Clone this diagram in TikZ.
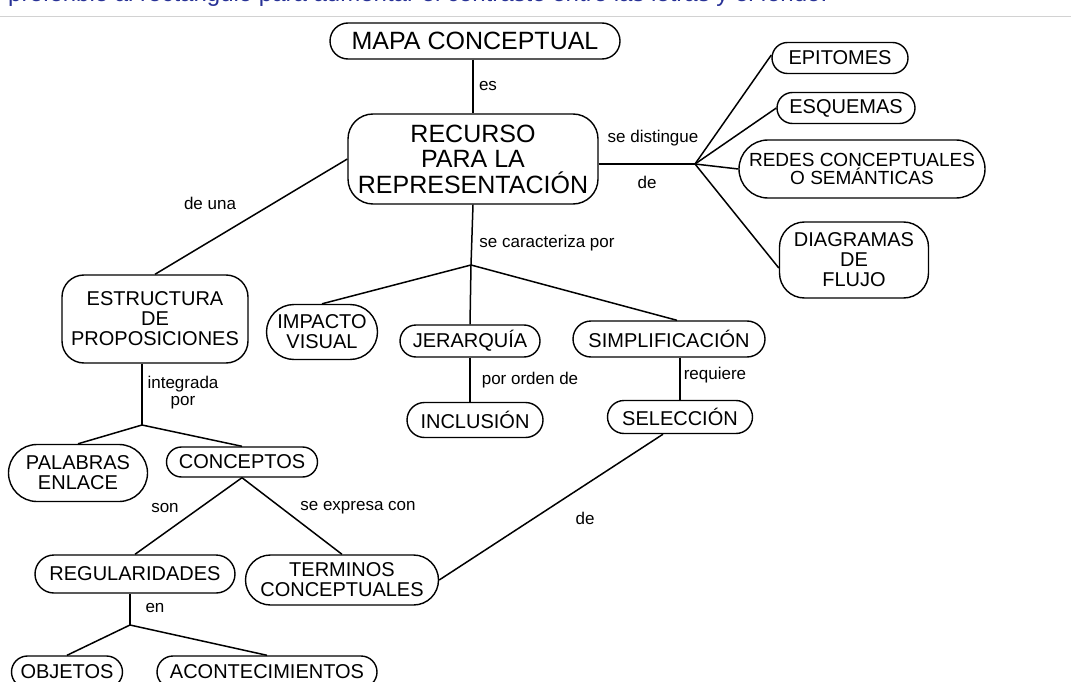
\documentclass[tikz,border=0pt]{standalone}
\usepackage{fontspec}
\setmainfont{Liberation Sans}
\usetikzlibrary{shapes.misc}
\definecolor{azulnota}{RGB}{40,50,150}

\begin{document}
\begin{tikzpicture}[x=1pt, y=-1pt,
  ovalo/.style={draw, rounded rectangle, line width=1.4pt, align=center, inner sep=0pt, font=\fontsize{20}{20}\selectfont},
  caja/.style={draw, rectangle, rounded corners=22pt, line width=1.4pt, align=center, inner sep=0pt, font=\fontsize{20}{20}\selectfont},
  enlace/.style={align=center, inner sep=0pt, font=\fontsize{17}{17}\selectfont},
  linea/.style={line width=1.5pt}]
\useasboundingbox (0,0) rectangle (1071,682);
\clip (0,0) rectangle (1071,682);
\node[anchor=base west, inner sep=0pt, text=azulnota, font=\fontsize{24}{24}\selectfont] (nota) at (8,2) {preferible al rectángulo para aumentar el contraste entre las letras y el fondo.}; % cut caption
\draw[gray!35, line width=1pt] (0,17) -- (1071,17); % page edge

% concepts
\node[ovalo, minimum width=290, minimum height=36, font=\fontsize{25}{25}\selectfont] (mapa) at (475,41) {MAPA CONCEPTUAL};
\node[caja, rounded corners=25pt, minimum width=250, minimum height=90, font=\fontsize{25}{25.5}\selectfont] (recurso) at (473,159) {RECURSO\\PARA LA\\REPRESENTACIÓN};
\node[ovalo, minimum width=136, minimum height=31] (epitomes) at (840,58) {EPITOMES};
\node[ovalo, minimum width=138, minimum height=31] (esquemas) at (846,108) {ESQUEMAS};
\node[ovalo, minimum width=246, minimum height=58, font=\fontsize{19}{18}\selectfont] (redes) at (862,169) {REDES CONCEPTUALES\\O SEMÁNTICAS};
\node[caja, rounded corners=25pt, minimum width=149, minimum height=76] (diagramas) at (854,260) {DIAGRAMAS\\DE\\FLUJO};
\node[caja, minimum width=186, minimum height=88] (estructura) at (155,319) {ESTRUCTURA\\DE\\PROPOSICIONES};
\node[ovalo, minimum width=111, minimum height=55] (impacto) at (322,332) {IMPACTO\\VISUAL};
\node[ovalo, minimum width=140, minimum height=32] (jerarquia) at (470,341) {JERARQUÍA};
\node[ovalo, minimum width=192, minimum height=36] (simplificacion) at (669,339) {SIMPLIFICACIÓN};
\node[ovalo, minimum width=136, minimum height=35] (inclusion) at (475,420) {INCLUSIÓN};
\node[ovalo, minimum width=145, minimum height=33] (seleccion) at (680,417) {SELECCIÓN};
\node[ovalo, minimum width=139, minimum height=57] (palabras) at (78,473) {PALABRAS\\ENLACE};
\node[ovalo, minimum width=151, minimum height=30] (conceptos) at (242,462) {CONCEPTOS};
\node[ovalo, minimum width=200, minimum height=38] (regularidades) at (135,574) {REGULARIDADES};
\node[ovalo, minimum width=193, minimum height=50] (terminos) at (342,580) {TERMINOS\\CONCEPTUALES};
\node[ovalo, minimum width=111, minimum height=32] (objetos) at (67,672) {OBJETOS};
\node[ovalo, minimum width=220, minimum height=32] (acontecimientos) at (267,672) {ACONTECIMIENTOS};

% branch points
\coordinate (hubD) at (695,164);
\coordinate (hubC) at (471,265);
\coordinate (hubE) at (142,425);
\coordinate (hubR) at (130,625);

% linking words
\node[enlace] (es) at (488,86) {es};
\node[enlace] (distingue) at (653,138) {se distingue};
\node[enlace] (de1) at (647,182) {de};
\node[enlace] (deuna) at (210,203) {de una};
\node[enlace] (caracteriza) at (547,243) {se caracteriza por};
\node[enlace] (orden) at (530,380) {por orden de};
\node[enlace] (requiere) at (715,375) {requiere};
\node[enlace] (integrada) at (183,393) {integrada\\por};
\node[enlace] (son) at (165,508) {son};
\node[enlace] (expresa) at (358,508) {se expresa con};
\node[enlace] (de2) at (585,518) {de};
\node[enlace] (en) at (155,608) {en};

% connectors
\draw[linea] (mapa.south -| recurso.north) -- (recurso.north);
\draw[linea] (recurso.east |- hubD) -- (hubD);
\draw[linea] (hubD) -- ([yshift=3pt]epitomes.west);
\draw[linea] (hubD) -- (esquemas.west);
\draw[linea] (hubD) -- (redes.west);
\draw[linea] (hubD) -- ([yshift=-8pt]diagramas.west);
\draw[linea] (recurso.west) -- (estructura.north);
\draw[linea] (recurso.south) -- (hubC);
\draw[linea] (hubC) -- (impacto.north);
\draw[linea] (hubC) -- (jerarquia.north);
\draw[linea] (hubC) -- ([xshift=8pt]simplificacion.north);
\draw[linea] (jerarquia.south) -- (jerarquia.south |- inclusion.north);
\draw[linea] (seleccion.north |- simplificacion.south) -- (seleccion.north);
\draw[linea] ([xshift=-17pt]seleccion.south) -- (terminos.east);
\draw[linea] (hubE |- estructura.south) -- (hubE);
\draw[linea] (hubE) -- (palabras.north);
\draw[linea] (hubE) -- (conceptos.north);
\draw[linea] (conceptos.south) -- (regularidades.north);
\draw[linea] (conceptos.south) -- (terminos.north);
\draw[linea] (hubR |- regularidades.south) -- (hubR);
\draw[linea] (hubR) -- (objetos.north);
\draw[linea] (hubR) -- (acontecimientos.north);
\end{tikzpicture}
\end{document}
